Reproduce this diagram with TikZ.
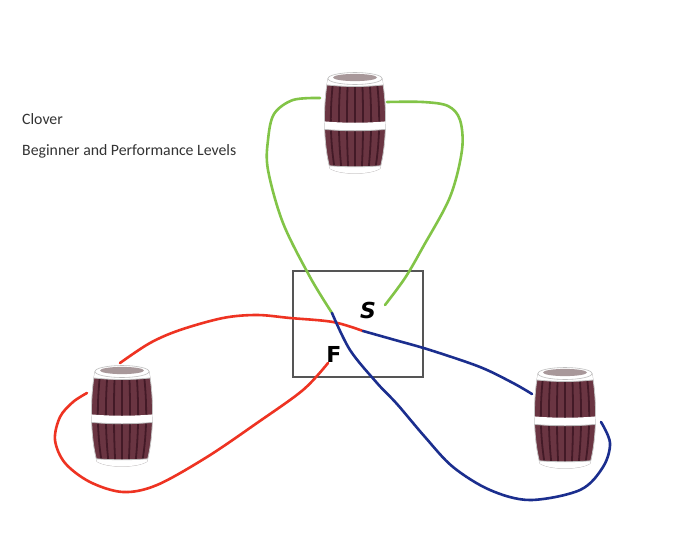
\documentclass[tikz,border=0pt]{standalone}
\usepackage{fontspec}
\newfontfamily\notefont{Carlito}
\newfontfamily\handfont{DejaVu Sans}
\definecolor{barrelbody}{HTML}{6A3542}
\definecolor{barrelstave}{HTML}{431A27}
\definecolor{barreltop}{HTML}{A8989A}
\definecolor{greenrope}{HTML}{82C447}
\definecolor{bluerope}{HTML}{1B2E8E}
\definecolor{redrope}{HTML}{EE3322}
\definecolor{boxgray}{HTML}{555555}
\definecolor{notegray}{HTML}{333333}
\tikzset{
  rope/.style={line width=2.6pt, line cap=round, line join=round},
  greenpath/.style={rope, draw=greenrope},
  bluepath/.style={rope, draw=bluerope},
  redpath/.style={rope, draw=redrope},
  startbox/.style={draw=boxgray, line width=2pt},
  notetext/.style={font=\notefont\fontsize{15.8}{18}\selectfont, text=notegray, anchor=base west, inner sep=0pt},
  marklabel/.style={font=\handfont\bfseries\fontsize{22}{24}\selectfont, text=black, inner sep=0pt},
  barrel/.pic={
    \path[fill=barrelbody, draw=gray!45, line width=0.8pt]
      (-27,-45) .. controls (-32,-20) and (-32,20) .. (-25,45)
      .. controls (-15,51.5) and (15,51.5) .. (25,45)
      .. controls (32,20) and (32,-20) .. (27,-45) -- cycle;
    \begin{scope}
      \clip (-27,-45) .. controls (-32,-20) and (-32,20) .. (-25,45)
      .. controls (-15,51.5) and (15,51.5) .. (25,45)
      .. controls (32,20) and (32,-20) .. (27,-45) -- cycle;
      \foreach \s in {-24,-16,-8,0,8,16,24}
        \draw[barrelstave, line width=1.8pt] ({\s*0.9},-45) .. controls ({\s*1.05},-15) and ({\s*1.05},15) .. ({\s*0.85},45);
      \fill[white] (-40,-60) -- (40,-60) -- (40,-40) .. controls (12,-36) and (-12,-36) .. (-40,-40) -- cycle;
      \draw[gray!50, line width=0.8pt] (40,-40) .. controls (12,-36) and (-12,-36) .. (-40,-40);
      \fill[white] (-40,-3) .. controls (-12,0) and (12,0) .. (40,-3) -- (40,5) .. controls (12,8) and (-12,8) .. (-40,5) -- cycle;
      \draw[gray!55, line width=0.8pt] (-40,5) .. controls (-12,8) and (12,8) .. (40,5);
      \fill[white] (-40,41) .. controls (-12,44) and (12,44) .. (40,41) -- (40,60) -- (-40,60) -- cycle;
      \draw[gray!50, line width=0.8pt] (-40,41) .. controls (-12,44) and (12,44) .. (40,41);
      \fill[gray!20] (-40,49) -- (40,49) -- (40,60) -- (-40,60) -- cycle;
    \end{scope}
    \path[fill=white, draw=gray!50, line width=0.6pt] (0,-45) ellipse [x radius=27, y radius=6];
    \path[fill=barreltop] (0,-46) ellipse [x radius=22, y radius=3.6];
  }
}
\begin{document}
\begin{tikzpicture}[x=1pt, y=-1pt]
\useasboundingbox[fill=white] (0,0) rectangle (682,546);

% barrels
\pic (topbarrel) at (355,123.5) {barrel};
\pic (leftbarrel) at (122,416.5) {barrel};
\pic (rightbarrel) at (565,418.5) {barrel};

% notes
\node[notetext] (title) at (22,124) {Clover};
\node[notetext] (levels) at (22,155) {Beginner and Performance Levels};

% start box
\node[startbox, minimum width=130pt, minimum height=106pt, anchor=north west, inner sep=0pt] (box) at (292,270) {};

% junction coordinates
\coordinate (gb) at (332,313);
\coordinate (rb) at (363,331);
\coordinate (sEnd) at (385,305);
\coordinate (fEnd) at (328,363);

% green loop around top barrel
\draw[greenpath] plot[smooth, tension=0.55] coordinates {(sEnd) (405,278) (423,247) (450,197) (462,150) (460,120) (448,106) (423,102) (387,102)};
\draw[greenpath] plot[smooth, tension=0.55] coordinates {(320,98) (293,100) (274,114) (268,140) (268,170) (283,223) (310,277) (gb)};

% red loop around left barrel
\draw[redpath] plot[smooth, tension=0.55] coordinates {(fEnd) (303,390) (257,423) (207,457) (157,485) (123,492) (90,482) (65,463) (55,440) (60,417) (73,402) (87,393)};
\draw[redpath] plot[smooth, tension=0.55] coordinates {(120,363) (150,343) (180,330) (223,318) (257,315) (290,318) (333,322) (rb)};

% blue loop around right barrel
\draw[bluepath] plot[smooth, tension=0.55] coordinates {(gb) (350,350) (377,383) (397,404) (425,437) (453,467) (490,490) (530,500) (580,490) (603,467) (610,443) (601,422)};
\draw[bluepath] plot[smooth, tension=0.55] coordinates {(rb) (395,340) (430,350) (480,367) (513,383) (532,394)};

% labels
\node[marklabel, font=\handfont\bfseries\itshape\fontsize{22}{24}\selectfont] (slabel) at (368,310) {S};
\node[marklabel] (flabel) at (334,354) {F};
\end{tikzpicture}
\end{document}
